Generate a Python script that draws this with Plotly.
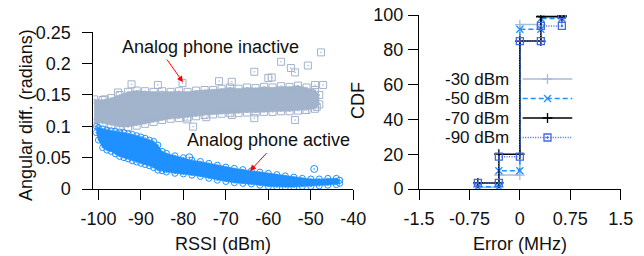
import plotly.graph_objects as go

# ---------------- data: left panel (RSSI vs angular difference) ----------------
inactive_rssi = [-101, -99, -97, -95, -93, -91, -89, -87, -85, -83, -81, -79, -77, -75,
                 -73, -71, -69, -67, -65, -63, -61, -59, -57, -55, -53, -51, -49, -48]
inactive_upper = [0.143, 0.142, 0.145, 0.150, 0.155, 0.157, 0.156, 0.155, 0.156, 0.155,
                  0.156, 0.155, 0.157, 0.158, 0.158, 0.160, 0.162, 0.160, 0.162, 0.161,
                  0.163, 0.162, 0.164, 0.163, 0.165, 0.162, 0.158, 0.150]
inactive_lower = [0.106, 0.105, 0.102, 0.099, 0.099, 0.101, 0.104, 0.107, 0.110, 0.112,
                  0.113, 0.114, 0.116, 0.118, 0.119, 0.120, 0.121, 0.121, 0.122, 0.122,
                  0.123, 0.123, 0.124, 0.124, 0.125, 0.126, 0.128, 0.135]
inactive_out_rssi = [-98.5, -95.4, -92.2, -86.0, -80.2, -71.6, -68.6, -63.3, -59.2, -60.0,
                     -57.0, -54.7, -53.7, -50.7, -49.0, -47.1, -47.6, -79.1, -77.7, -74.6,
                     -68.6, -63.3, -53.7, -51.4, -48.6]
inactive_out_angle = [0.143, 0.154, 0.167, 0.166, 0.169, 0.172, 0.171, 0.187, 0.178, 0.177,
                      0.203, 0.193, 0.186, 0.197, 0.166, 0.166, 0.218, 0.111, 0.0995, 0.1145,
                      0.118, 0.113, 0.110, 0.126, 0.131]

active_rssi = [-100.5, -100, -99, -98, -97, -96, -95, -94, -93, -92, -91, -90, -89, -88,
               -87, -86, -85, -84, -82, -80, -78, -76, -74, -72, -70, -68, -66, -64, -62,
               -60, -58, -56, -54, -52, -50, -48, -46, -44, -43.2]
active_upper = [0.100, 0.098, 0.096, 0.094, 0.093, 0.092, 0.091, 0.090, 0.088, 0.087,
                0.085, 0.083, 0.081, 0.078, 0.076, 0.070, 0.060, 0.057, 0.053, 0.050,
                0.046, 0.044, 0.041, 0.038, 0.035, 0.033, 0.031, 0.029, 0.027, 0.025,
                0.023, 0.021, 0.019, 0.017, 0.016, 0.016, 0.017, 0.017, 0.014]
active_lower = [0.090, 0.078, 0.066, 0.062, 0.060, 0.056, 0.052, 0.050, 0.048, 0.045,
                0.043, 0.041, 0.039, 0.037, 0.034, 0.030, 0.029, 0.027, 0.025, 0.024,
                0.022, 0.020, 0.017, 0.014, 0.012, 0.010, 0.009, 0.008, 0.006, 0.004,
                0.003, 0.003, 0.003, 0.004, 0.004, 0.005, 0.006, 0.007, 0.009]
active_out_rssi = [-78.6, -49.2]
active_out_angle = [0.0506, 0.032]

rssi_ticks = [-100, -90, -80, -70, -60, -50, -40]
rssi_ticktext = ["-100", "-90", "-80", "-70", "-60", "-50", "-40"]
angle_ticks = [0, 0.05, 0.1, 0.15, 0.2, 0.25]
angle_ticktext = ["0", "0.05", "0.1", "0.15", "0.2", "0.25"]

# ---------------- data: right panel (CDF of frequency error) ----------------
error_mhz = [-0.625, -0.3125, 0, 0.3125, 0.625]
cdf_series = ["-30 dBm", "-50 dBm", "-70 dBm", "-90 dBm"]
cdf_m30 = [1.0, 8.0, 94.5, 99.5, 100]
cdf_m50 = [1.3, 10.5, 91.8, 98.0, 100]
cdf_m70 = [3.5, 20.0, 85.0, 99.0, 100]
cdf_m90 = [3.5, 18.6, 85.0, 93.7, 100]

err_ticks = [-1.5, -0.75, 0, 0.75, 1.5]
err_ticktext = ["-1.5", "-0.75", "0", "0.75", "1.5"]
cdf_ticks = [0, 20, 40, 60, 80, 100]
cdf_ticktext = ["0", "20", "40", "60", "80", "100"]

# ---------------- styling ----------------
W, H = 644, 256
FONT = "Liberation Sans"
GREY = "#a2b3cc"
BLUE = "#1e90ff"
TXT = "#111"


def pxx(p):
    return p / W


def pxy(p):
    return 1 - p / H


fig = go.Figure()

fig.add_trace(go.Scatter(x=inactive_rssi, y=inactive_lower, mode="lines+markers",
                         line=dict(color=GREY, width=0.5),
                         marker=dict(symbol="square-open-dot", size=7, color=GREY, line=dict(width=1)),
                         xaxis="x", yaxis="y", showlegend=False))
fig.add_trace(go.Scatter(x=inactive_rssi, y=inactive_upper, mode="lines+markers", fill="tonexty",
                         fillcolor=GREY, line=dict(color=GREY, width=0.5),
                         marker=dict(symbol="square-open-dot", size=7, color=GREY, line=dict(width=1)),
                         xaxis="x", yaxis="y", showlegend=False))
fig.add_trace(go.Scatter(x=inactive_out_rssi, y=inactive_out_angle, mode="markers",
                         marker=dict(symbol="square-open-dot", size=7, color=GREY, line=dict(width=1)),
                         xaxis="x", yaxis="y", showlegend=False))
fig.add_trace(go.Scatter(x=active_rssi, y=active_lower, mode="lines+markers",
                         line=dict(color=BLUE, width=0.5),
                         marker=dict(symbol="circle-open-dot", size=6, color=BLUE, line=dict(width=1)),
                         xaxis="x", yaxis="y", showlegend=False))
fig.add_trace(go.Scatter(x=active_rssi, y=active_upper, mode="lines+markers", fill="tonexty",
                         fillcolor=BLUE, line=dict(color=BLUE, width=0.5),
                         marker=dict(symbol="circle-open-dot", size=6, color=BLUE, line=dict(width=1)),
                         xaxis="x", yaxis="y", showlegend=False))
fig.add_trace(go.Scatter(x=active_out_rssi, y=active_out_angle, mode="markers",
                         marker=dict(symbol="circle-open-dot", size=7, color=BLUE, line=dict(width=1)),
                         xaxis="x", yaxis="y", showlegend=False))

styles = [
    dict(color="#a6bcda", dash="solid", symbol="cross-thin-open", vals=cdf_m30),
    dict(color=BLUE, dash="5px,3px", symbol="x-thin-open", vals=cdf_m50),
    dict(color="#000000", dash="solid", symbol="cross-thin-open", vals=cdf_m70),
    dict(color="#4169e1", dash="1px,1.5px", symbol="square-open-dot", vals=cdf_m90),
]
for name, st in zip(cdf_series, styles):
    xs, ys = [], []
    v = st["vals"]
    for i in range(len(error_mhz) - 1):
        xs += [error_mhz[i], error_mhz[i + 1]]
        ys += [v[i], v[i]]
    xs.append(error_mhz[-1])
    ys.append(v[-1])
    fig.add_trace(go.Scatter(x=xs, y=ys, mode="lines+markers", name=name,
                             line=dict(color=st["color"], width=1.5, dash=st["dash"]),
                             marker=dict(symbol=st["symbol"], size=7, color=st["color"],
                                         line=dict(width=1.3, color=st["color"])),
                             xaxis="x2", yaxis="y2", showlegend=False))

leg_rows = [79, 98.5, 118, 137.5]
leg_x0, leg_x1 = 522.7, 572.3
annotations = []
for name, st, row in zip(cdf_series, styles, leg_rows):
    fig.add_trace(go.Scatter(x=[pxx(leg_x0), pxx(leg_x1)], y=[pxy(row)] * 2, mode="lines",
                             line=dict(color=st["color"], width=1.5, dash=st["dash"]),
                             xaxis="x3", yaxis="y3", showlegend=False, hoverinfo="skip"))
    fig.add_trace(go.Scatter(x=[pxx((leg_x0 + leg_x1) / 2)], y=[pxy(row)], mode="markers",
                             marker=dict(symbol=st["symbol"], size=7, color=st["color"],
                                         line=dict(width=1.3, color=st["color"])),
                             xaxis="x3", yaxis="y3", showlegend=False, hoverinfo="skip"))
    annotations.append(dict(text=name, x=pxx(510), y=pxy(row), xref="paper", yref="paper",
                            xanchor="right", yanchor="middle", showarrow=False, borderpad=0,
                            font=dict(family=FONT, size=17, color=TXT)))

# in-plot labels and red arrows
annotations += [
    dict(text="Analog phone inactive", x=-73.5, y=0.2264, xref="x", yref="y", showarrow=False,
         xanchor="center", yanchor="middle", font=dict(family=FONT, size=18, color=TXT)),
    dict(text="Analog phone active", x=-60.0, y=0.0775, xref="x", yref="y", showarrow=False,
         xanchor="center", yanchor="middle", font=dict(family=FONT, size=18, color=TXT)),
    dict(text="", x=-80.1, y=0.1704, ax=-84.1, ay=0.2088, xref="x", yref="y", axref="x", ayref="y",
         showarrow=True, arrowhead=2, arrowsize=1.2, arrowwidth=1, arrowcolor="#ff0000"),
    dict(text="", x=-64.3, y=0.0288, ax=-60.1, ay=0.0596, xref="x", yref="y", axref="x", ayref="y",
         showarrow=True, arrowhead=2, arrowsize=1.2, arrowwidth=1, arrowcolor="#ff0000"),
]

# axis titles
annotations += [
    dict(text="RSSI (dBm)", x=pxx(223.3), y=pxy(244), xref="paper", yref="paper",
         xanchor="center", yanchor="middle", showarrow=False, borderpad=0,
         font=dict(family=FONT, size=18, color=TXT)),
    dict(text="Error (MHz)", x=pxx(520), y=pxy(244), xref="paper", yref="paper",
         xanchor="center", yanchor="middle", showarrow=False, borderpad=0,
         font=dict(family=FONT, size=18, color=TXT)),
    dict(text="Angular diff. (radians)", x=pxx(26), y=pxy(115), xref="paper", yref="paper",
         xanchor="center", yanchor="middle", textangle=-90, showarrow=False, borderpad=0,
         font=dict(family=FONT, size=18, color=TXT)),
    dict(text="CDF", x=pxx(358), y=pxy(101), xref="paper", yref="paper",
         xanchor="center", yanchor="middle", textangle=-90, showarrow=False, borderpad=0,
         font=dict(family=FONT, size=18, color=TXT)),
]

axis_common = dict(showgrid=False, zeroline=False, showline=True, linecolor="#000", linewidth=1,
                   ticks="outside", ticklen=10, tickcolor="#000", tickwidth=1, automargin=False,
                   tickfont=dict(family=FONT, size=18, color=TXT))

fig.update_layout(
    width=W, height=H, margin=dict(l=0, r=0, t=0, b=0),
    paper_bgcolor="white", plot_bgcolor="rgba(0,0,0,0)", showlegend=False,
    font=dict(family=FONT, size=18, color=TXT),
    xaxis=dict(domain=[pxx(93.3), pxx(353.3)], range=[-101.2, -40], tickvals=rssi_ticks,
               ticktext=rssi_ticktext, ticklabelstandoff=3, anchor="y", **axis_common),
    yaxis=dict(domain=[pxy(189), pxy(32.3)], range=[0, 0.25], tickvals=angle_ticks,
               ticktext=angle_ticktext, ticklabelstandoff=8, anchor="x", **axis_common),
    xaxis2=dict(domain=[pxx(419), pxx(620.7)], range=[-1.5, 1.5], tickvals=err_ticks,
                ticktext=err_ticktext, ticklabelstandoff=3, anchor="y2", **axis_common),
    yaxis2=dict(domain=[pxy(189), pxy(15)], range=[0, 100], tickvals=cdf_ticks,
                ticktext=cdf_ticktext, ticklabelstandoff=1, anchor="x2", **axis_common),
    xaxis3=dict(domain=[0, 1], range=[0, 1], visible=False, anchor="y3", fixedrange=True),
    yaxis3=dict(domain=[0, 1], range=[0, 1], visible=False, anchor="x3", fixedrange=True),
    annotations=annotations,
)

fig.write_html("out.html", config={"displayModeBar": False},
               post_script="document.body.style.margin='0';")
